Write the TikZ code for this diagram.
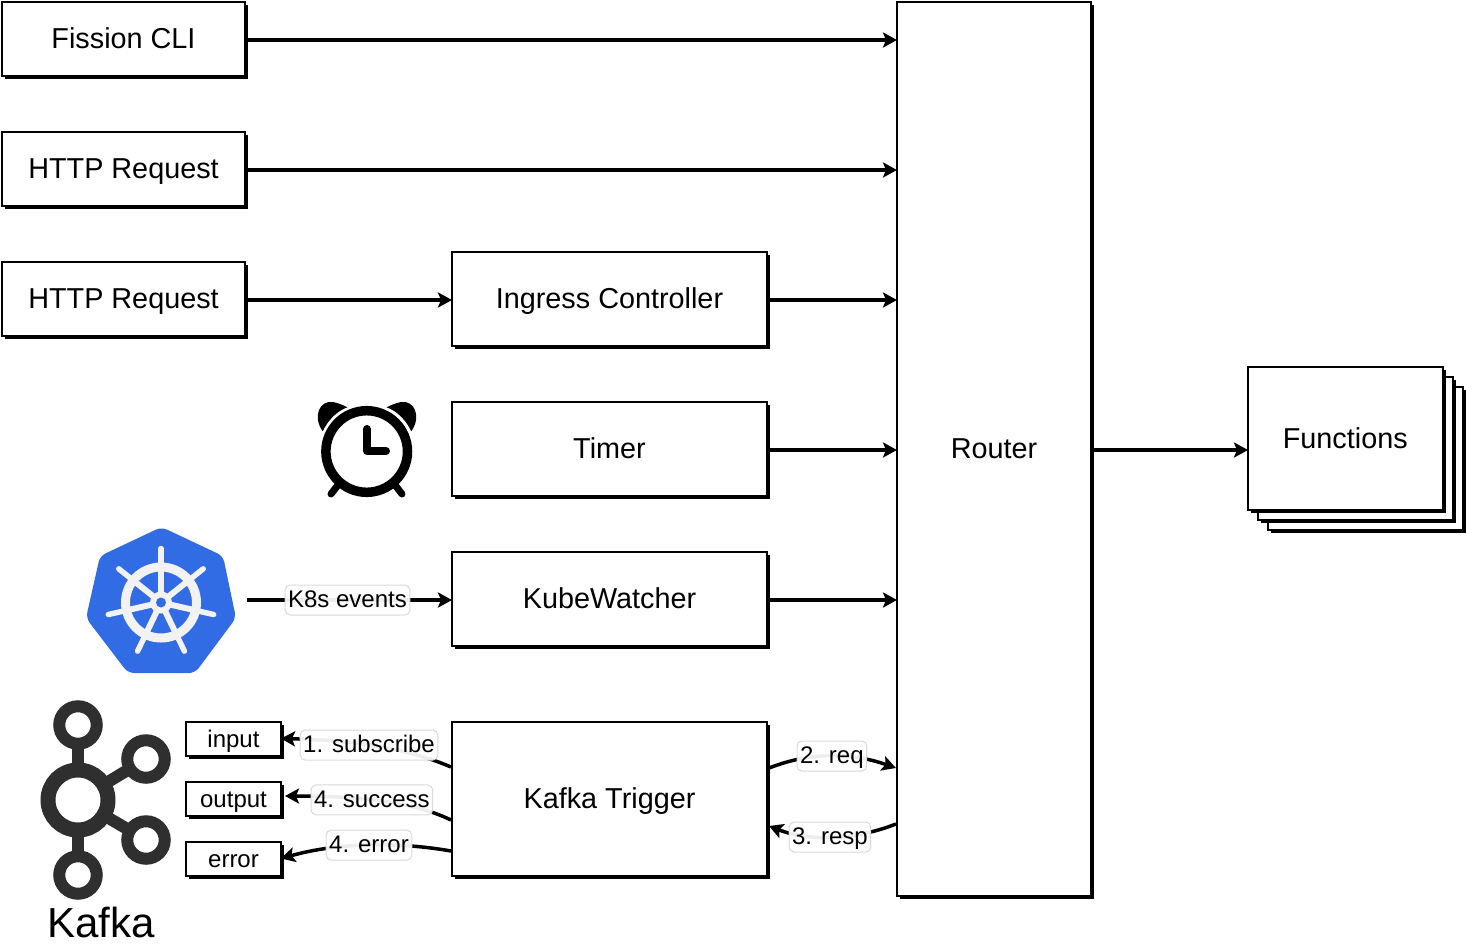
\documentclass[tikz,border=0pt]{standalone}
\usepackage{fontspec}
\setmainfont{Liberation Sans}
\usetikzlibrary{shadows, arrows.meta}
\definecolor{k8sblue}{HTML}{326CE5}
\definecolor{k8swhite}{HTML}{F2F2F2}
\definecolor{kafkagray}{HTML}{2F2F2F}
\tikzset{
    box/.style={draw, fill=white, line width=1pt, outer sep=0pt, align=center,
        text height=10.3pt, text depth=0pt,
        font=\fontsize{14.4}{16}\selectfont,
        general shadow={fill=black, shadow xshift=1.5pt, shadow yshift=-1.5pt}},
    smallbox/.style={box, minimum width=47.5pt, minimum height=17pt, inner sep=0pt,
        text height=9.5pt, text depth=1pt,
        font=\fontsize{12}{14}\selectfont},
    flow/.style={-{Stealth[length=7pt, width=7.5pt, inset=1.5pt]}, line width=1.75pt},
    edgelabel/.style={draw=black!15, line width=.5pt, rounded corners=2.5pt, fill=white,
        fill opacity=.93, text opacity=1, inner xsep=1.5pt, inner ysep=0pt,
        minimum height=15pt, text height=9.6pt, text depth=2.4pt,
        font=\fontsize{12}{14}\selectfont}
}

\begin{document}
\begin{tikzpicture}[x=.5pt, y=-.5pt]
\useasboundingbox (0,0) rectangle (1466,948);

\node [box, minimum width=121.5pt, minimum height=37pt] (fission) at (123.5,38.5) {Fission CLI};
\node [box, minimum width=121.5pt, minimum height=37pt] (http1) at (123.5,168.5) {HTTP Request};
\node [box, minimum width=121.5pt, minimum height=37pt] (http2) at (123.5,298.5) {HTTP Request};

\node [box, minimum width=157.5pt, minimum height=47pt] (ingress) at (609.5,298.5) {Ingress Controller};
\node [box, minimum width=157.5pt, minimum height=47pt] (timer) at (609.5,448.5) {Timer};
\node [box, minimum width=157.5pt, minimum height=47pt] (kubewatcher) at (609.5,598.5) {KubeWatcher};
\node [box, minimum width=157.5pt, minimum height=77pt] (trigger) at (609.5,798.5) {Kafka Trigger};

\node [box, minimum width=97pt, minimum height=447pt] (router) at (994,448.5) {Router};

\node [box, minimum width=97.25pt, minimum height=71.5pt] (func3) at (1365.25,458.5) {};
\node [box, minimum width=97.25pt, minimum height=71.5pt] (func2) at (1355.25,448.5) {};
\node [box, minimum width=97.25pt, minimum height=71.5pt] (functions) at (1345.25,438.5) {Functions};

\node [smallbox] (input) at (233.5,738.5) {input};
\node [smallbox] (output) at (233.5,798.5) {output};
\node [smallbox] (error) at (233.5,858.5) {error};

\coordinate (fissionout) at ([yshift=-.75pt]fission.east);
\coordinate (http1out) at ([yshift=-.75pt]http1.east);
\coordinate (http2out) at ([yshift=-.75pt]http2.east);
\coordinate (ingressout) at ([yshift=-.75pt]ingress.east);
\coordinate (timerout) at ([yshift=-.75pt]timer.east);
\coordinate (kubeout) at ([yshift=-.75pt]kubewatcher.east);
\coordinate (routerout) at ([yshift=-.75pt]router.east);

\draw [flow] (fissionout) -- (fissionout -| router.west);
\draw [flow] (http1out) -- (http1out -| router.west);
\draw [flow] (http2out) -- (http2out -| ingress.west);
\draw [flow] (ingressout) -- (ingressout -| router.west);
\draw [flow] (timerout) -- (timerout -| router.west);
\draw [flow] (kubeout) -- (kubeout -| router.west);
\draw [flow] (routerout) -- (routerout -| functions.west);

\coordinate (k8sout) at (247,600);
\draw [flow] (k8sout) -- node[edgelabel, pos=.49] (k8slabel) {K8s events} (k8sout -| kubewatcher.west);

\coordinate (subscribeout) at (451,767);
\coordinate (successout) at (451,820);
\coordinate (errorout) at (451,851);
\coordinate (reqout) at (769,768);
\coordinate (reqin) at (896,768);
\coordinate (respout) at (896,824);
\coordinate (respin) at (769,826);

\draw [flow] (subscribeout) .. controls (400,745) and (340,740) .. (input.east) node[edgelabel, pos=.5] (sublabel) {1. subscribe};
\draw [flow] (successout) .. controls (410,800) and (350,796) .. (285,796) node[edgelabel, pos=.53] (succlabel) {4. success};
\draw [flow] (errorout) .. controls (400,842) and (340,842) .. (error.east) node[edgelabel, pos=.5] (errlabel) {4. error};
\draw [flow] (reqout) .. controls (810,752) and (850,752) .. (reqin) node[edgelabel, pos=.51] (reqlabel) {2. req};
\draw [flow] (respout) .. controls (855,840) and (810,842) .. (respin) node[edgelabel, pos=.52] (resplabel) {3. resp};

% alarm clock
\draw [line width=4.75pt] (366.7,451.5) circle [radius=40.8];
\draw [line width=4pt, line cap=round, line join=round] (367,429) -- (367,451) -- (386,451);
\draw [line width=3.5pt, line cap=round] (338,485) -- (331,494);
\draw [line width=3.5pt, line cap=round] (395,485) -- (402,494);
\fill (322.7,431.3) .. controls (312,416) and (320,400) .. (333,402) .. controls (338,403) and (343,405) .. (347.3,407.3) .. controls (337,411) and (328,420) .. cycle;
\fill (411.3,431.3) .. controls (422,416) and (414,400) .. (401,402) .. controls (396,403) and (391,405) .. (386.7,407.3) .. controls (397,411) and (406,420) .. cycle;

% kubernetes logo
\fill [k8sblue, rounded corners=3pt] (161.5,527) -- (223,556) -- (236,618) -- (195,673) -- (128,673) -- (86,618) -- (100,556) -- cycle;
\coordinate (wheel) at (161,602.5);
\draw [k8swhite, line width=4.5pt] (wheel) circle [radius=35.5];
\fill [k8swhite] (wheel) circle [radius=11];
\foreach \ang in {-90,-38.57,12.86,64.29,115.71,167.14,218.57} {
    \draw [k8swhite, line width=3pt] (wheel) -- ++(\ang:36);
    \draw [k8swhite, line width=2.75pt, line cap=round] (wheel) ++(\ang:38) -- ++(\ang:16);
}
\fill [k8sblue] (wheel) circle [radius=5];

% kafka logo
\coordinate (hub) at (78,800);
\draw [kafkagray, line width=6pt] (hub) -- (78,725);
\draw [kafkagray, line width=6pt] (hub) -- (78,875);
\draw [kafkagray, line width=6pt] (hub) -- (146,759);
\draw [kafkagray, line width=6pt] (hub) -- (146,840);
\foreach \cx/\cy in {78/725, 78/875, 146/759, 146/840} {
    \draw [kafkagray, line width=6pt, fill=white] (\cx,\cy) circle [radius=18.75];
}
\draw [kafkagray, line width=7.5pt, fill=white] (hub) circle [radius=30];
\node [font=\fontsize{21}{24}\selectfont, inner sep=0pt] (kafkatext) at (101,922) {Kafka};

\end{tikzpicture}
\end{document}
